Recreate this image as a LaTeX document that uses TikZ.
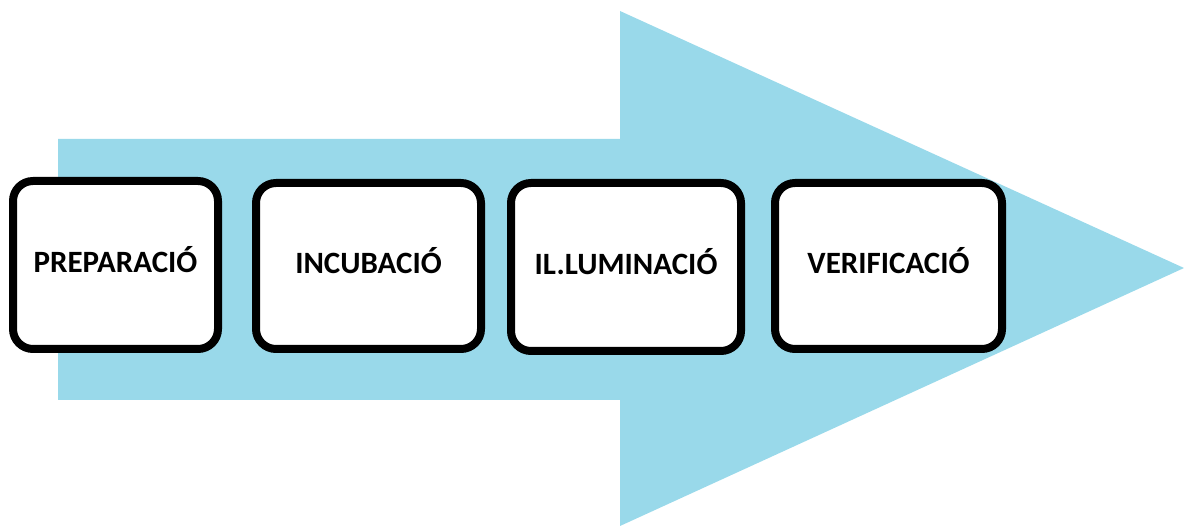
\documentclass[tikz,border=0pt]{standalone}
\usepackage{fontspec}
\setmainfont{Carlito}
\definecolor{paintblue}{RGB}{153,217,234}
\tikzset{stage/.style={draw=black, fill=white, line width=8pt, rounded corners=20pt,
    font=\fontsize{31}{37}\selectfont\bfseries, inner sep=0pt,
    text height=21pt, text depth=6pt}}

\begin{document}
\begin{tikzpicture}[x=1pt, y=-1pt]
    \useasboundingbox (0,0) rectangle (1184,526);
    % big arrow
    \fill[paintblue] (58,139) -- (620,139) -- (620,11) -- (1184,268)
        -- (620,526) -- (620,400) -- (58,400) -- cycle;
    % stages
    \node[stage, minimum width=205pt, minimum height=168pt] (prep) at (115.5,265) {PREPARACIÓ};
    \node[stage, minimum width=225pt, minimum height=166pt] (incub) at (368.5,266) {INCUBACIÓ};
    \node[stage, minimum width=230pt, minimum height=168pt] (illum) at (626,267) {IL.LUMINACIÓ};
    \node[stage, minimum width=227pt, minimum height=166pt] (verif) at (888.5,266) {VERIFICACIÓ};
\end{tikzpicture}
\end{document}
